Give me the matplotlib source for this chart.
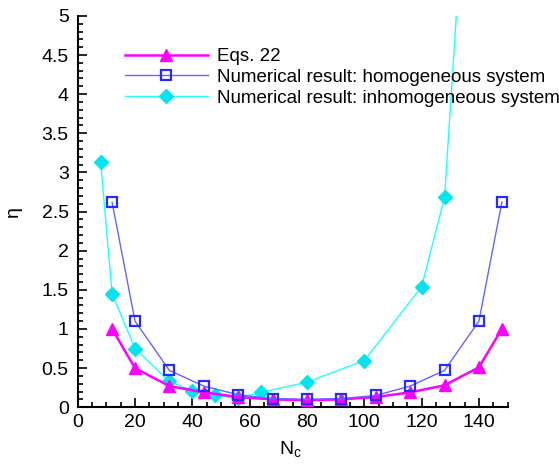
import matplotlib
matplotlib.use('Agg')
from matplotlib import pyplot as plt
from matplotlib.ticker import MultipleLocator

plt.rcParams['font.family'] = ['Liberation Sans', 'DejaVu Sans']

# efficiency vs cluster count
nc_sym = [12, 20, 32, 44, 56, 68, 80, 92, 104, 116, 128, 140, 148]
eta_eqs22 = [1.0, 0.5, 0.27, 0.19, 0.13, 0.1, 0.09, 0.1, 0.13, 0.19, 0.28, 0.51, 1.0]
eta_homog = [2.62, 1.1, 0.47, 0.27, 0.16, 0.11, 0.1, 0.11, 0.15, 0.27, 0.47, 1.1, 2.62]

nc_inhomog = [8, 12, 20, 32, 40, 48, 56, 64, 80, 100, 120, 128, 136]
eta_inhomog = [3.13, 1.45, 0.75, 0.33, 0.21, 0.155, 0.115, 0.19, 0.32, 0.595, 1.54, 2.68, 7.2]

fig = plt.figure(figsize=(5.59, 4.67), dpi=100)
ax = fig.add_axes([0.139, 0.128, 0.769, 0.838])

ax.plot(nc_sym, eta_eqs22, color='#ff00ff', lw=1.8, marker='^', ms=8.5,
        mec='#ff00ff', mfc='#ff00ff', label='Eqs. 22', zorder=3)
ax.plot(nc_sym, eta_homog, color='#6464ff', lw=1.0, marker='s', ms=7,
        mec='#2a2aff', mfc='none', mew=1.6, label='Numerical result: homogeneous system', zorder=4)
ax.plot(nc_inhomog, eta_inhomog, color='#22ffff', lw=1.0, marker='D', ms=7,
        mec='#00e5ee', mfc='#00e5ee', label='Numerical result: inhomogeneous system', zorder=2)

ax.set_xlim(0, 150)
ax.set_ylim(0, 5)
ax.xaxis.set_major_locator(MultipleLocator(20))
ax.xaxis.set_minor_locator(MultipleLocator(5))
ax.yaxis.set_major_locator(MultipleLocator(0.5))
ax.yaxis.set_minor_locator(MultipleLocator(0.1))
ax.yaxis.set_major_formatter(plt.FuncFormatter(lambda v, p: f'{v:g}'))

for side in ['top', 'right']:
    ax.spines[side].set_visible(False)
for side in ['left', 'bottom']:
    ax.spines[side].set_linewidth(1.5)

ax.tick_params(which='both', direction='in', labelsize=14, width=1.2)
ax.tick_params(which='major', length=6.5)
ax.tick_params(which='minor', length=3.5)
ax.tick_params(axis='x', which='major', pad=5)
ax.tick_params(axis='y', which='major', pad=6.5)

ax.set_xlabel(r'N$_\mathregular{c}$', fontsize=14)
ax.set_ylabel('η', fontsize=14)
ax.xaxis.set_label_coords(0.494, -0.082)
ax.yaxis.set_label_coords(-0.13, 0.5)

ax.legend(loc='upper left', bbox_to_anchor=(125 / 559, 1 - 48 / 467),
          bbox_transform=fig.transFigure, frameon=False, fontsize=13.5,
          handlelength=4.4, handletextpad=0.5, labelspacing=0.2,
          borderpad=0, borderaxespad=0)

fig.savefig('out.png', dpi=100)
